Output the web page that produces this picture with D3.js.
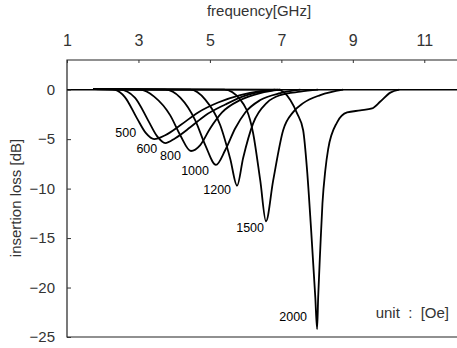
<!DOCTYPE html>
<html>
<head>
<meta charset="utf-8">
<script src="https://cdn.jsdelivr.net/npm/d3@7"></script>
<style>
  body { margin: 0; background: #fff; }
  svg { display: block; }
  text { font-family: "Liberation Sans", Arial, sans-serif; }
</style>
</head>
<body>
<div id="chart"></div>
<script>
// field strengths [Oe]
var fields = ["500", "600", "800", "1000", "1200", "1500", "2000"];

// insertion loss curves, [frequency GHz, dB]
var curve500 = [[1.73,0.05],[2.26,0.05],[2.34,0],[2.62,-0.75],[2.96,-2.9],[3.21,-4.4],[3.44,-5.0],[3.75,-4.6],[4.17,-3.6],[4.67,-2.3],[5.23,-1.3],[5.85,-0.55],[6.41,-0.15],[6.83,0]];
var curve600 = [[1.73,0.05],[2.48,0],[2.9,-0.8],[3.27,-3.1],[3.52,-4.7],[3.75,-5.4],[4.03,-4.9],[4.45,-3.8],[4.87,-2.6],[5.43,-1.5],[5.99,-0.6],[6.55,-0.15],[6.97,0]];
var curve800 = [[1.73,0.05],[3.04,0],[3.44,-0.7],[3.89,-2.6],[4.17,-4.6],[4.47,-6.2],[4.73,-5.6],[5.01,-3.9],[5.34,-2.3],[5.85,-1.05],[6.41,-0.35],[6.97,0]];
var curve1000 = [[1.73,0.05],[3.75,0],[4.17,-0.8],[4.59,-3.1],[4.87,-5.6],[5.17,-7.6],[5.43,-6.1],[5.71,-3.9],[5.99,-2.3],[6.41,-1.05],[6.97,-0.35],[7.53,0]];
var curve1200 = [[1.73,0.05],[4.45,0],[4.87,-1.0],[5.29,-3.6],[5.57,-7.0],[5.76,-9.7],[5.93,-6.9],[6.21,-3.4],[6.6,-1.3],[6.97,-0.55],[7.53,-0.2],[8.03,0]];
var curve1500 = [[1.73,0.05],[5.4,0],[5.85,-1.0],[6.21,-4.4],[6.41,-9.2],[6.57,-13.3],[6.77,-9.2],[7.05,-4.1],[7.33,-2.27],[7.61,-1.36],[8.09,-0.55],[8.73,0]];
var curve2000 = [[1.73,0.05],[6.9,0],[7.25,-1.05],[7.44,-2.4],[7.61,-4.1],[7.72,-8.15],[7.83,-14],[7.95,-21],[8.0,-24.2],[8.03,-21],[8.09,-16],[8.15,-11.5],[8.23,-8.15],[8.31,-6.0],[8.56,-3.3],[8.84,-2.3],[9.21,-2.1],[9.54,-1.9],[9.77,-1.2],[10.05,-0.3],[10.3,0]];
var curves = [curve500, curve600, curve800, curve1000, curve1200, curve1500, curve2000];

var xTicks = [1, 3, 5, 7, 9, 11];
var yTicks = [0, -5, -10, -15, -20, -25];

var W = 457, H = 348;
var margin = {top: 60, right: -3, bottom: 11, left: 67};

var svg = d3.select("#chart").append("svg")
  .attr("width", W)
  .attr("height", H);

var x = d3.scaleLinear().domain([1, 12]).range([margin.left, W - margin.right]);
var y = d3.scaleLinear().domain([3, -25]).range([margin.top, H - margin.bottom]);

// frame (left, top, bottom)
svg.append("path")
  .attr("d", "M" + x(12) + "," + y(3) + "H" + x(1) + "V" + y(-25) + "H" + x(12))
  .attr("fill", "none")
  .attr("stroke", "#222")
  .attr("stroke-width", 1.2);

// zero line
svg.append("line")
  .attr("x1", x(1)).attr("x2", x(12))
  .attr("y1", y(0)).attr("y2", y(0))
  .attr("stroke", "#000")
  .attr("stroke-width", 1.5);

// top axis
var xAxis = svg.append("g")
  .attr("transform", "translate(0," + y(3) + ")")
  .call(d3.axisTop(x).tickValues(xTicks).tickSize(-3).tickPadding(14).tickFormat(d3.format("d")));
xAxis.select(".domain").remove();
xAxis.selectAll("line").attr("stroke", "#333");
xAxis.selectAll("text").attr("font-size", 16).attr("fill", "#333")
  .style("font-family", "Liberation Sans, Arial, sans-serif");

// left axis
var yAxis = svg.append("g")
  .attr("transform", "translate(" + x(1) + ",0)")
  .call(d3.axisLeft(y).tickValues(yTicks).tickSize(-4).tickPadding(12)
    .tickFormat(function(d) { return d === 0 ? "0" : "\u2212" + Math.abs(d); }));
yAxis.select(".domain").remove();
yAxis.selectAll("line").attr("stroke", "#333");
yAxis.selectAll("text").attr("font-size", 15).attr("fill", "#333")
  .style("font-family", "Liberation Sans, Arial, sans-serif");

// axis titles
svg.append("text")
  .attr("x", 259).attr("y", 16)
  .attr("text-anchor", "middle")
  .attr("font-size", 15)
  .attr("fill", "#333")
  .text("frequency[GHz]");

svg.append("text")
  .attr("transform", "translate(21,198) rotate(-90)")
  .attr("text-anchor", "middle")
  .attr("font-size", 15)
  .attr("fill", "#333")
  .text("insertion loss [dB]");

// curves
var line = d3.line()
  .x(function(d) { return x(d[0]); })
  .y(function(d) { return y(d[1]); })
  .curve(d3.curveMonotoneX);

svg.selectAll(".curve")
  .data(curves).enter()
  .append("path")
  .attr("class", "curve")
  .attr("d", line)
  .attr("fill", "none")
  .attr("stroke", "#000")
  .attr("stroke-width", 1.8)
  .attr("stroke-linejoin", "round");

// field labels, placed to the lower left of each minimum
var offsets = [[-18, -2], [-8, 10], [-10, 9], [-7, 10], [-6, 8], [-2, 11], [-10, -8]];
svg.selectAll(".lbl")
  .data(curves).enter()
  .append("text")
  .attr("class", "lbl")
  .attr("x", function(d, i) {
    var m = d3.least(d, function(p) { return p[1]; });
    return x(m[0]) + offsets[i][0];
  })
  .attr("y", function(d, i) {
    var m = d3.least(d, function(p) { return p[1]; });
    return y(m[1]) + offsets[i][1];
  })
  .attr("text-anchor", "end")
  .attr("font-size", 12.5)
  .attr("fill", "#000")
  .text(function(d, i) { return fields[i]; });

svg.append("text")
  .attr("x", 449).attr("y", 318)
  .attr("text-anchor", "end")
  .attr("font-size", 15)
  .attr("fill", "#333")
  .attr("xml:space", "preserve")
  .style("white-space", "pre")
  .text("unit  :  [Oe]");
</script>
</body>
</html>
